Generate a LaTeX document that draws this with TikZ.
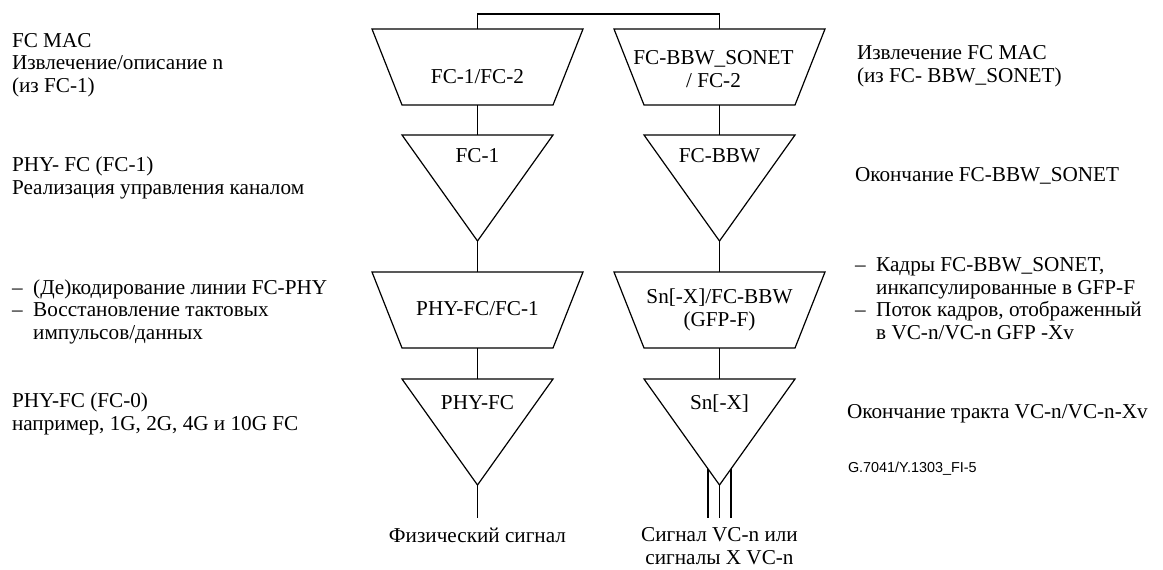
\documentclass[tikz,border=0pt]{standalone}
\usepackage{fontspec}
\setmainfont{Liberation Serif}
\newfontfamily\figidfont{Liberation Sans}
\usetikzlibrary{positioning,shapes.geometric}

% trapezoid outline round a block node (wide side up)
\newcommand{\adaptshape}[1]{\draw (#1.north west) -- (#1.north east) -- ([xshift=-15pt]#1.south east) -- ([xshift=15pt]#1.south west) -- cycle;}

\begin{document}
\begin{tikzpicture}[
    x=0.5pt, y=-0.5pt,
    font=\fontsize{10.6}{11.25}\selectfont,
    line width=0.6pt,
    every node/.style={outer sep=0pt},
    adapt/.style={rectangle, minimum width=105.5pt, minimum height=38pt, inner sep=0pt},
    term/.style={draw, isosceles triangle, isosceles triangle stretches, shape border rotate=-90, minimum width=75.5pt, minimum height=53pt, inner sep=0pt},
    blocktext/.style={anchor=base, align=center, inner sep=0pt},
    sidenote/.style={anchor=base west, align=left, inner sep=0pt}
  ]
    \useasboundingbox (0,0) rectangle (1163,569);

    % FC stack (left)
    \node[adapt, anchor=north, label={[blocktext, yshift=-27pt]north:FC-1/FC-2}] (fcmac) at (477.5,29) {};
    \node[term, below=15pt of fcmac, label={[blocktext, yshift=-13.5pt]north:FC-1}] (fcone) {};
    \node[adapt, below=15.5pt of fcone, label={[blocktext, yshift=-21.5pt]north:PHY-FC/FC-1}] (phyenc) {};
    \node[term, below=15.5pt of phyenc, label={[blocktext, yshift=-15pt]north:PHY-FC}] (phyfc) {};
    \coordinate[below=16.5pt of phyfc] (physig);

    % FC-BBW_SONET stack (right)
    \node[adapt, anchor=north, label={[blocktext, yshift=-29pt, xshift=-3pt]north:FC-BBW\_SONET\\/ FC-2}] (sonetmac) at (719.5,29) {};
    \node[term, below=15pt of sonetmac, label={[blocktext, yshift=-13.5pt]north:FC-BBW}] (bbw) {};
    \node[adapt, below=15.5pt of bbw, label={[blocktext, yshift=-27pt]north:Sn[-X]/FC-BBW\\(GFP-F)}] (gfpf) {};
    \node[term, below=15.5pt of gfpf, label={[blocktext, yshift=-15pt]north:Sn[-X]}] (snx) {};
    \coordinate[below=16.5pt of snx] (vcsig);

    \foreach \blk in {fcmac,phyenc,sonetmac,gfpf} {\adaptshape{\blk}}

    % Links
    \draw (fcmac.north) -- ++(0pt,7.5pt) -| (sonetmac.north);
    \draw (fcmac.south) -- (fcone.north);
    \draw (fcone.south) -- (phyenc.north);
    \draw (phyenc.south) -- (phyfc.north);
    \draw (phyfc.south) -- (physig);
    \draw (sonetmac.south) -- (bbw.north);
    \draw (bbw.south) -- (gfpf.north);
    \draw (gfpf.south) -- (snx.north);
    \draw (snx.south) -- (vcsig);
    \draw ([xshift=-5.75pt, yshift=8.07pt]snx.south) -- ([xshift=-5.75pt]vcsig);
    \draw ([xshift=5.75pt, yshift=8.07pt]snx.south) -- ([xshift=5.75pt]vcsig);

    % Signals
    \node[blocktext] (physigT) at ([yshift=-12pt]physig) {Физический сигнал};
    \node[blocktext] (vcsigT) at ([yshift=-23pt]vcsig) {Сигнал VC-n или\\сигналы X VC-n};

    % Side notes
    \node[sidenote] (macL) at (12,92) {FC MAC\\Извлечение/описание n\\(из FC-1)};
    \node[sidenote] (linkL) at (12,194) {PHY- FC (FC-1)\\Реализация управления каналом};
    \node[sidenote] (codeL) at (12,339) {\makebox[1em][l]{--}(Де)кодирование линии FC-PHY\\\makebox[1em][l]{--}Восстановление тактовых\\\hspace*{1em}импульсов/данных};
    \node[sidenote] (phyL) at (12,430) {PHY-FC (FC-0)\\например, 1G, 2G, 4G и 10G FC};
    \node[sidenote] (macR) at (857,82) {Извлечение FC MAC\\(из FC- BBW\_SONET)};
    \node[sidenote] (bbwR) at (855,181) {Окончание FC-BBW\_SONET};
    \node[sidenote] (gfpR) at (855,339) {\makebox[1em][l]{--}Кадры FC-BBW\_SONET,\\\hspace*{1em}инкапсулированные в GFP-F\\\makebox[1em][l]{--}Поток кадров, отображенный\\\hspace*{1em}в VC-n/VC-n GFP -Xv};
    \node[sidenote] (pathR) at (847,418) {Окончание тракта VC-n/VC-n-Xv};
    \node[sidenote, font=\figidfont\fontsize{7.2}{8}\selectfont] (figid) at (848,472) {G.7041/Y.1303\_FI-5};
  \end{tikzpicture}
\end{document}
